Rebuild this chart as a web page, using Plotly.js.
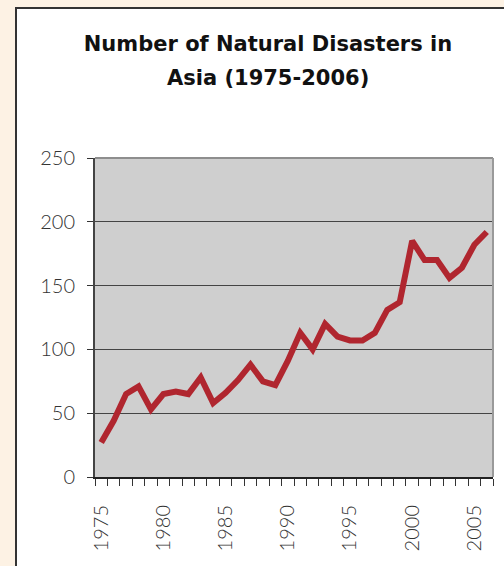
<!DOCTYPE html>
<html>
<head>
<meta charset="utf-8">
<script src="https://cdn.plot.ly/plotly-3.0.1.min.js"></script>
<style>
  html, body { margin: 0; padding: 0; background: #FDF2E4; width: 504px; height: 566px; overflow: hidden; }
  #box { position: absolute; left: 15px; top: 7px; width: 540px; height: 620px; background: #ffffff; border-left: 2px solid #333; border-top: 2px solid #333; }
  #chart { position: absolute; left: 0; top: 0; width: 504px; height: 566px; }
</style>
</head>
<body>
<div id="box"></div>
<div id="chart"></div>
<script>
const years = [1975,1976,1977,1978,1979,1980,1981,1982,1983,1984,1985,1986,1987,1988,1989,1990,
               1991,1992,1993,1994,1995,1996,1997,1998,1999,2000,2001,2002,2003,2004,2005,2006];
const disasters = [27,44,65,71,53,65,67,65,78,58,66,76,88,75,72,91,
                   113,100,120,110,107,107,113,131,137,185,170,170,156,164,182,192];
const xTickVals = [1975,1980,1985,1990,1995,2000,2005];
const xTickText = ['1975','1980','1985','1990','1995','2000','2005'];
const yTickVals = [0,50,100,150,200,250];
const titleLine1 = 'Number of Natural Disasters in';
const titleLine2 = 'Asia (1975-2006)';

const fontFam = 'Lato, "Open Sans", sans-serif';
const titleFam = '"DejaVu Sans", sans-serif';

const trace = {
  x: years, y: disasters, type: 'scatter', mode: 'lines',
  line: { color: '#B0262F', width: 6 },
  hoverinfo: 'x+y'
};

const layout = {
  width: 504, height: 566,
  margin: { l: 95, r: 11, t: 158, b: 89 },
  paper_bgcolor: 'rgba(0,0,0,0)',
  plot_bgcolor: '#CFCFCF',
  showlegend: false,
  title: {
    text: '<b>' + titleLine1 + '</b>',
    font: { family: titleFam, size: 21, color: '#111' },
    xref: 'container', x: 268 / 504, xanchor: 'center',
    yref: 'container', y: 1 - 36 / 566, yanchor: 'top'
  },
  annotations: [{
    text: '<b>' + titleLine2 + '</b>',
    xref: 'paper', yref: 'paper',
    x: (268 - 95) / 398, xanchor: 'center',
    y: 1 + (158 - 64) / 319, yanchor: 'top',
    showarrow: false,
    font: { family: titleFam, size: 21, color: '#111' }
  }],
  xaxis: {
    type: 'linear', range: [1974.5, 2006.5],
    tickmode: 'array', tickvals: xTickVals, ticktext: xTickText,
    tickangle: -90, ticks: '', ticklabelstandoff: 18,
    tickfont: { family: fontFam, size: 20, color: '#333', weight: 300 },
    showgrid: false, zeroline: false,
    showline: true, linecolor: '#222', linewidth: 2,
    minor: { tickmode: 'linear', tick0: 1974.5, dtick: 1, ticks: 'outside', ticklen: 7, tickcolor: '#333', tickwidth: 1, showgrid: false },
    fixedrange: true
  },
  yaxis: {
    range: [0, 250], tickmode: 'array', tickvals: yTickVals,
    ticks: 'outside', ticklen: 6, tickcolor: '#333', tickwidth: 1,
    ticklabelstandoff: 8,
    tickfont: { family: fontFam, size: 20, color: '#333', weight: 300 },
    showgrid: true, gridcolor: '#444', gridwidth: 1,
    zeroline: false,
    showline: true, linecolor: '#444', linewidth: 2,
    fixedrange: true
  },
  shapes: [
    { type: 'line', xref: 'paper', yref: 'paper', x0: 0, x1: 1, y0: 1, y1: 1, line: { color: '#8E8E8E', width: 2 }, layer: 'above' },
    { type: 'line', xref: 'paper', yref: 'paper', x0: 1, x1: 1, y0: 0, y1: 1, line: { color: '#9A9A9A', width: 2 }, layer: 'above' }
  ]
};

Plotly.newPlot('chart', [trace], layout, { displayModeBar: false, staticPlot: false });
</script>
</body>
</html>
